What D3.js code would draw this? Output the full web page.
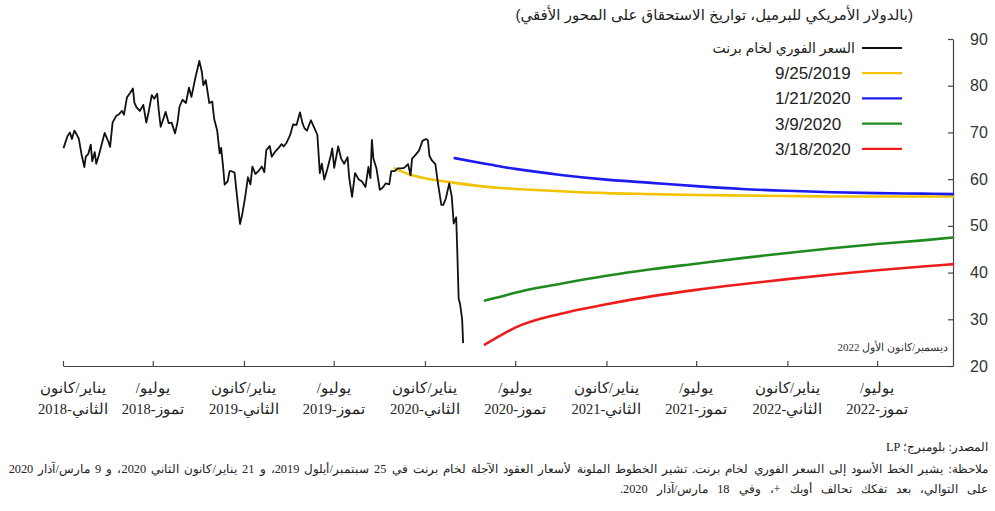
<!DOCTYPE html>
<html>
<head>
<meta charset="utf-8">
<script src="https://cdn.jsdelivr.net/npm/d3@7"></script>
<style>
  body { margin: 0; background: #fff; }
  svg { display: block; }
  .axis path, .axis line { stroke: #444; stroke-width: 1.2; }
  .y-axis text { font-family: "Liberation Sans", Arial, sans-serif; font-size: 16px; fill: #333; }
</style>
</head>
<body>
<div class="linechart"></div>
<script>
// Brent spot price (USD per barrel)
var spotDates = ["2018-01-02","2018-01-05","2018-01-10","2018-01-15","2018-01-19","2018-01-24","2018-01-29","2018-02-02","2018-02-07","2018-02-13","2018-02-16","2018-02-21","2018-02-26","2018-03-01","2018-03-06","2018-03-09","2018-03-14","2018-03-20","2018-03-26","2018-04-03","2018-04-06","2018-04-11","2018-04-18","2018-04-24","2018-04-30","2018-05-04","2018-05-10","2018-05-16","2018-05-22","2018-05-25","2018-05-29","2018-06-05","2018-06-12","2018-06-18","2018-06-22","2018-06-29","2018-07-04","2018-07-10","2018-07-13","2018-07-17","2018-07-23","2018-07-27","2018-08-02","2018-08-08","2018-08-15","2018-08-20","2018-08-24","2018-08-30","2018-09-06","2018-09-12","2018-09-17","2018-09-25","2018-10-03","2018-10-08","2018-10-11","2018-10-16","2018-10-23","2018-10-29","2018-11-02","2018-11-08","2018-11-13","2018-11-16","2018-11-20","2018-11-23","2018-11-29","2018-12-03","2018-12-07","2018-12-13","2018-12-18","2018-12-24","2018-12-28","2019-01-03","2019-01-09","2019-01-14","2019-01-18","2019-01-24","2019-01-30","2019-02-06","2019-02-11","2019-02-15","2019-02-22","2019-02-26","2019-03-05","2019-03-11","2019-03-18","2019-03-22","2019-03-28","2019-04-04","2019-04-10","2019-04-17","2019-04-24","2019-04-29","2019-05-03","2019-05-08","2019-05-16","2019-05-22","2019-05-29","2019-06-03","2019-06-07","2019-06-12","2019-06-18","2019-06-25","2019-06-28","2019-07-02","2019-07-10","2019-07-16","2019-07-22","2019-07-29","2019-08-01","2019-08-07","2019-08-13","2019-08-20","2019-08-27","2019-09-03","2019-09-09","2019-09-13","2019-09-16","2019-09-19","2019-09-25","2019-10-02","2019-10-08","2019-10-14","2019-10-21","2019-10-25","2019-11-01","2019-11-07","2019-11-14","2019-11-20","2019-11-28","2019-12-03","2019-12-06","2019-12-13","2019-12-20","2019-12-27","2020-01-03","2020-01-07","2020-01-10","2020-01-15","2020-01-22","2020-01-27","2020-02-03","2020-02-07","2020-02-12","2020-02-19","2020-02-24","2020-02-28","2020-03-04","2020-03-06","2020-03-09","2020-03-12","2020-03-16","2020-03-18"];
var spotValues = [66.6,67.6,69.2,70.0,68.6,70.4,69.5,68.6,65.5,62.6,64.8,65.4,67.4,63.8,65.8,63.3,65.0,67.4,69.9,67.9,66.9,72.1,73.5,73.9,74.6,73.8,77.5,78.4,79.4,76.4,75.4,74.6,75.9,72.1,74.0,78.0,77.2,78.3,74.8,71.2,73.1,74.4,72.0,72.1,69.8,72.2,75.5,77.0,76.3,79.6,77.6,81.7,85.3,83.0,80.1,81.2,76.3,76.6,72.8,70.4,65.5,66.7,62.5,58.8,59.5,61.7,61.7,61.4,56.3,50.4,52.2,55.9,60.4,58.9,62.7,61.1,61.7,62.7,61.5,66.2,67.1,64.8,65.9,66.6,67.5,67.0,67.8,69.4,71.7,71.6,74.3,72.0,70.9,70.4,72.6,71.2,69.5,61.3,63.3,59.9,62.1,65.0,66.6,62.4,67.0,64.4,63.3,64.7,60.5,56.2,61.3,60.0,59.5,58.3,62.6,60.2,68.4,64.4,62.4,57.7,58.2,59.1,58.9,61.7,61.7,62.3,62.3,62.4,63.2,60.8,64.4,65.2,66.1,68.2,68.6,68.3,65.0,64.0,63.2,59.3,54.5,54.5,55.8,59.1,56.3,50.5,51.8,45.3,34.4,33.2,30.0,24.9];

// Futures curves, by contract month
var futDates = ["2019-11-01","2019-12-01","2020-01-01","2020-03-01","2020-05-01","2020-06-01","2020-07-01","2020-10-01","2021-01-01","2021-04-01","2021-07-01","2021-10-01","2022-01-01","2022-04-01","2022-07-01","2022-10-01","2022-12-01"];
var futSep25 = [62.3,61.0,60.2,59.2,58.4,58.1,57.9,57.4,57.0,56.8,56.6,56.5,56.4,56.3,56.3,56.3,56.3];
var futJan21 = [null,null,null,64.5,63.3,62.7,62.2,60.9,59.9,59.2,58.5,57.9,57.5,57.2,57.0,56.9,56.8];
var futMar9 = [null,null,null,null,34.0,34.8,35.7,37.6,39.3,40.7,41.9,43.1,44.2,45.2,46.1,46.9,47.5];
var futMar18 = [null,null,null,null,24.6,26.5,28.2,31.2,33.2,34.9,36.3,37.5,38.6,39.6,40.5,41.3,41.8];

var legendNames = ["السعر الفوري لخام برنت", "9/25/2019", "1/21/2020", "3/9/2020", "3/18/2020"];
var legendColors = ["#111111", "#f2c300", "#1c1cf0", "#1f8a1f", "#ee1d1d"];

var tickDates = ["2018-01-01","2018-07-01","2019-01-01","2019-07-01","2020-01-01","2020-07-01","2021-01-01","2021-07-01","2022-01-01","2022-07-01"];
var tickLine1 = ["يناير/كانون","يوليو/","يناير/كانون","يوليو/","يناير/كانون","يوليو/","يناير/كانون","يوليو/","يناير/كانون","يوليو/"];
var tickLine2 = ["الثاني-2018","تموز-2018","الثاني-2019","تموز-2019","الثاني-2020","تموز-2020","الثاني-2021","تموز-2021","الثاني-2022","تموز-2022"];
var yTicks = [20, 30, 40, 50, 60, 70, 80, 90];

var svgWidth = 995;
var svgHeight = 511;
var arabicFont = "'Liberation Sans', 'DejaVu Sans', sans-serif";
var serifFont = "'Liberation Serif', 'DejaVu Serif', serif";

var parseDate = d3.timeParse("%Y-%m-%d");

var svg = d3.select(".linechart")
  .append("svg")
  .attr("width", svgWidth)
  .attr("height", svgHeight);

// scales
var xTimeScale = d3.scaleTime()
  .domain([parseDate("2018-01-01"), parseDate("2022-12-01")])
  .range([63, 953]);

var yLinearScale = d3.scaleLinear()
  .domain([20, 90])
  .range([366, 39]);

// x axis, ticks pointing up
var bottomAxis = d3.axisBottom(xTimeScale)
  .tickValues(tickDates.map(parseDate))
  .tickSize(-5)
  .tickSizeOuter(0)
  .tickFormat("");

svg.append("g")
  .classed("axis", true)
  .attr("transform", "translate(0, 366)")
  .call(bottomAxis);

// y axis on the right, ticks pointing in
var rightAxis = d3.axisRight(yLinearScale)
  .tickValues(yTicks)
  .tickSize(-5)
  .tickSizeOuter(0)
  .tickPadding(17);

svg.append("g")
  .classed("axis y-axis", true)
  .attr("transform", "translate(953, 0)")
  .call(rightAxis);

// two line x labels (first one is nudged right, as in the original)
var labelX = function(d, i) { return xTimeScale(parseDate(d)) + (i == 0 ? 10 : 0); };

var xLabels = svg.append("g").selectAll("text")
  .data(tickDates)
  .enter()
  .append("text")
  .attr("direction", "rtl")
  .attr("text-anchor", "middle")
  .attr("font-family", serifFont)
  .attr("font-size", 14.5)
  .attr("fill", "#222");

xLabels.append("tspan")
  .attr("x", labelX)
  .attr("y", 393)
  .text((d, i) => tickLine1[i]);

xLabels.append("tspan")
  .attr("x", labelX)
  .attr("y", 414)
  .text((d, i) => tickLine2[i]);

// lines
var spotData = spotDates.map((d, i) => ({ date: parseDate(d), v: spotValues[i] }));

var spotLine = d3.line()
  .x(d => xTimeScale(d.date))
  .y(d => yLinearScale(d.v));

var futLine = d3.line()
  .defined(d => d.v != null)
  .curve(d3.curveMonotoneX)
  .x(d => xTimeScale(d.date))
  .y(d => yLinearScale(d.v));

var futSeries = [futSep25, futJan21, futMar9, futMar18];

futSeries.forEach(function(vals, k) {
  var data = futDates.map((d, i) => ({ date: parseDate(d), v: vals[i] }));
  svg.append("path")
    .datum(data)
    .attr("fill", "none")
    .attr("stroke", legendColors[k + 1])
    .attr("stroke-width", 2.6)
    .attr("stroke-linecap", "round")
    .attr("d", futLine);
});

svg.append("path")
  .datum(spotData)
  .attr("fill", "none")
  .attr("stroke", legendColors[0])
  .attr("stroke-width", 1.8)
  .attr("stroke-linejoin", "round")
  .attr("d", spotLine);

// legend
var legend = svg.append("g").selectAll("g")
  .data(legendNames)
  .enter()
  .append("g")
  .attr("transform", (d, i) => `translate(0, ${48 + i * 25.2})`);

legend.append("line")
  .attr("x1", 862)
  .attr("x2", 902)
  .attr("stroke", (d, i) => legendColors[i])
  .attr("stroke-width", 2.2);

legend.append("text")
  .attr("x", (d, i) => i == 0 ? 855 : 775)
  .attr("dy", "0.35em")
  .attr("direction", (d, i) => i == 0 ? "rtl" : "ltr")
  .attr("text-anchor", "start")
  .attr("font-family", arabicFont)
  .attr("font-size", (d, i) => i == 0 ? 14 : 17)
  .attr("fill", "#222")
  .text(d => d);

// title
svg.append("text")
  .attr("x", 913)
  .attr("y", 20)
  .attr("direction", "rtl")
  .attr("text-anchor", "start")
  .attr("font-family", arabicFont)
  .attr("font-size", 15)
  .attr("fill", "#222")
  .text("(بالدولار الأمريكي للبرميل، تواريخ الاستحقاق على المحور الأفقي)");

// annotation at the end of the axis
svg.append("text")
  .attr("x", 948)
  .attr("y", 351)
  .attr("direction", "rtl")
  .attr("text-anchor", "start")
  .attr("font-family", serifFont)
  .attr("font-size", 11)
  .attr("fill", "#333")
  .text("ديسمبر/كانون الأول 2022");

// source and note
var notes = svg.append("g")
  .attr("font-family", serifFont)
  .attr("font-size", 12.3)
  .attr("fill", "#222");

notes.append("text")
  .attr("x", 988)
  .attr("y", 451)
  .attr("direction", "rtl")
  .attr("text-anchor", "start")
  .text("المصدر: بلومبرج؛ LP");

// justified line: stretch the word gaps
notes.append("text")
  .attr("x", 988)
  .attr("y", 473)
  .attr("direction", "rtl")
  .attr("text-anchor", "start")
  .attr("word-spacing", 2.1)
  .text("ملاحظة: يشير الخط الأسود إلى السعر الفوري لخام برنت. تشير الخطوط الملونة لأسعار العقود الآجلة لخام برنت في 25 سبتمبر/أيلول 2019، و 21 يناير/كانون الثاني 2020، و 9 مارس/آذار 2020");

notes.append("text")
  .attr("x", 988)
  .attr("y", 493)
  .attr("direction", "rtl")
  .attr("text-anchor", "start")
  .attr("word-spacing", 6)
  .text("على التوالي، بعد تفكك تحالف أوبك +، وفي 18 مارس/آذار 2020.");
</script>
</body>
</html>
